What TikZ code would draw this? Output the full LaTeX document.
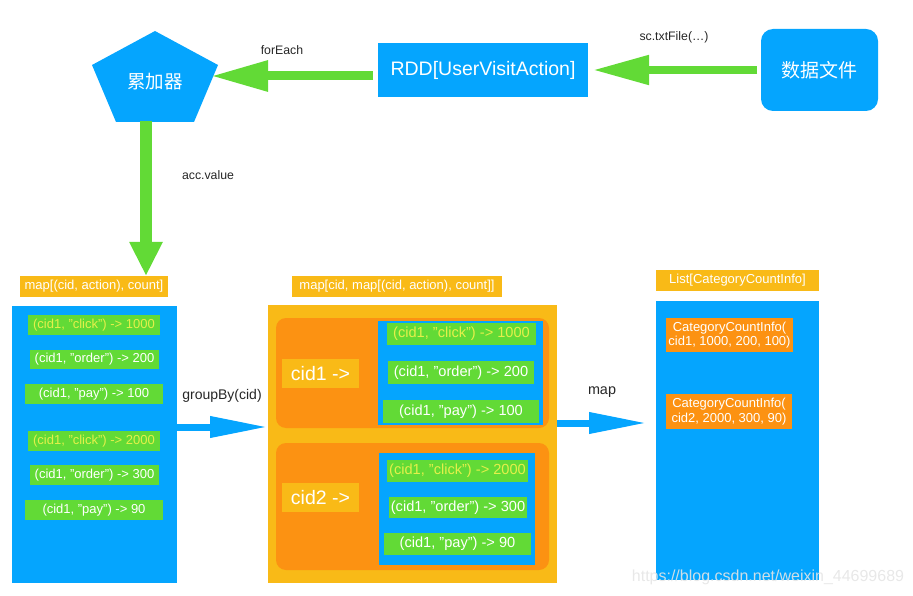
\documentclass[tikz,border=0pt]{standalone}
\usepackage{fontspec}
\setmainfont{Liberation Sans}
\newfontfamily\cjk{Noto Sans CJK SC}
\usetikzlibrary{arrows.meta}
\definecolor{cblue}{HTML}{05A5FE}
\definecolor{cgreen}{HTML}{62DA36}
\definecolor{cyel}{HTML}{F9BA17}
\definecolor{corg}{HTML}{FC9212}
\definecolor{ctxt}{HTML}{E4F04A}
\newcommand{\bx}[7]{\node[#2,minimum width={#5-#3},minimum height={#6-#4}] (#1) at ({(#3+#5)/2},{(#4+#6)/2}) {#7};}
\newcommand{\fs}[1]{\fontsize{#1}{#1}\selectfont}
\tikzset{
  box/.style={inner sep=0pt, outer sep=0pt, anchor=center},
  bluebox/.style={box, fill=cblue},
  hdr/.style={box, fill=cyel, text=white, font=\fs{13}},
  itemL/.style={box, fill=cgreen, text=white, font=\fs{13}},
  itemM/.style={box, fill=cgreen, text=white, font=\fs{14.6}},
  grp/.style={box, fill=corg, rounded corners=10pt},
  cidlbl/.style={box, fill=cyel, text=white, font=\fs{19.5}},
  info/.style={box, fill=corg, text=white, font=\fontsize{13}{14.5}\selectfont, align=center},
  lbl/.style={inner sep=0pt, text=black!85, font=\fs{12.3}},
  gar/.style={draw=cgreen, line width=#1},
  bar/.style={draw=cblue, line width=7pt, -{Triangle[length=58pt,width=20pt]}},
}
\begin{document}
\begin{tikzpicture}[x=1pt,y=-1pt]
\useasboundingbox (0,0) rectangle (913,596);
% top row
\fill[cblue] (155,31) -- (218,65) -- (194,122) -- (116,122) -- (92,65) -- cycle;
\node[inner sep=0pt, text=white, font=\cjk\fs{18.5}] (acc) at (155,82) {累加器};
\coordinate (accR) at (211,76);
\coordinate (accB) at (146,121);
\bx{rdd}{bluebox, text=white, font=\fs{19.5}}{378}{43}{588}{97}{RDD[UserVisitAction]}
\bx{data}{bluebox, rounded corners=12pt, text=white, font=\cjk\fs{19}}{761}{29}{878}{111}{数据文件}
\draw[gar=9pt, -{Triangle[length=57pt,width=29pt]}] ([xshift=-5pt,yshift=-6pt]rdd.west) -- (accR);
\draw[gar=8pt, -{Triangle[length=56pt,width=28pt]}] ([xshift=-4pt]data.west) -- ([xshift=5pt]rdd.east);
\node[lbl] (lfe) at (282,50) {forEach};
\node[lbl] (ltf) at (674,37) {sc.txtFile(…)};
\node[lbl] (lav) at (208,175) {acc.value};
% left panel
\bx{h1}{hdr}{20}{276}{168}{297}{map[(cid, action), count]}
\draw[gar=12pt, -{Triangle[length=34pt,width=31pt]}] (accB) -- (accB |- h1.north);
\bx{lp}{bluebox}{12}{306}{177}{583}{}
\bx{l1}{itemL, text=ctxt}{28}{315}{160}{335}{(cid1, "click") -> 1000}
\bx{l2}{itemL}{30}{350}{159}{369}{(cid1, "order") -> 200}
\bx{l3}{itemL}{25}{384}{163}{404}{(cid1, "pay") -> 100}
\bx{l4}{itemL, text=ctxt}{28}{431}{160}{451}{(cid1, "click") -> 2000}
\bx{l5}{itemL}{30}{465}{159}{485}{(cid1, "order") -> 300}
\bx{l6}{itemL}{25}{500}{163}{520}{(cid1, "pay") -> 90}
% middle panel
\bx{h2}{hdr}{292}{276}{502}{297}{map[cid, map[(cid, action), count]]}
\bx{mid}{box, fill=cyel}{268}{305}{557}{583}{}
\bx{g1}{grp}{276}{318}{549}{428}{}
\bx{g2}{grp}{276}{443}{549}{570}{}
\bx{c1}{cidlbl}{282}{359}{359}{388}{cid1 ->}
\bx{c2}{cidlbl}{282}{483}{359}{512}{cid2 ->}
\bx{b1}{bluebox}{378}{321}{543}{425}{}
\bx{m1}{itemM, text=ctxt}{387}{323}{536}{345}{(cid1, "click") -> 1000}
\bx{m2}{itemM}{388}{361}{534}{384}{(cid1, "order") -> 200}
\bx{m3}{itemM}{383}{400}{539}{423}{(cid1, "pay") -> 100}
\bx{b2}{bluebox}{379}{453}{535}{565}{}
\bx{m4}{itemM, text=ctxt}{387}{460}{528}{482}{(cid1, "click") -> 2000}
\bx{m5}{itemM}{389}{497}{527}{518}{(cid1, "order") -> 300}
\bx{m6}{itemM}{384}{533}{531}{555}{(cid1, "pay") -> 90}
% right panel
\bx{h3}{hdr}{656}{270}{819}{291}{List[CategoryCountInfo]}
\bx{rp}{bluebox}{656}{301}{819}{580}{}
\bx{o1}{info}{666}{318}{793}{352}{CategoryCountInfo(\\cid1, 1000, 200, 100)}
\bx{o2}{info}{666}{394}{792}{429}{CategoryCountInfo(\\cid2, 2000, 300, 90)}
% blue arrows
\coordinate (gy) at (0,427);
\coordinate (my) at (0,423);
\draw[bar] (lp.east |- gy) -- (mid.west |- gy);
\draw[bar, shorten >=9pt] (mid.east |- my) -- (rp.west |- my);
\node[lbl, font=\fs{14}] (lgb) at (222,396) {groupBy(cid)};
\node[lbl, font=\fs{14.4}] (lmap) at (602,392) {map};
% watermark
\node[inner sep=0pt, text=black!10, opacity=0.9, font=\fs{16}] (wm) at (768,577) {https://blog.csdn.net/weixin\_44699689};
\end{tikzpicture}
\end{document}
